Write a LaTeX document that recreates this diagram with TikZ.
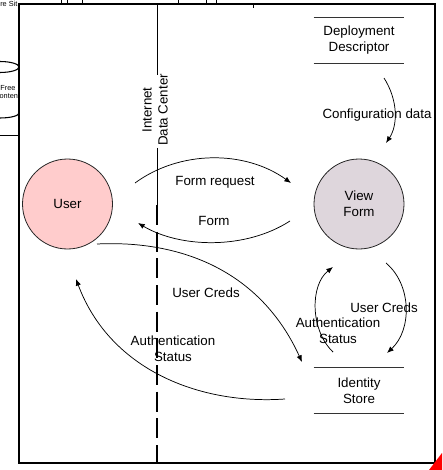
\documentclass[tikz,border=0pt]{standalone}
\usepackage{fontspec}
\setmainfont{Liberation Sans}
\usetikzlibrary{arrows.meta,calc}
\definecolor{userpink}{RGB}{255,204,204}
\definecolor{formgrey}{RGB}{222,214,220}

\begin{document}
\begin{tikzpicture}[x=0.75pt,y=-0.75pt,
  proc/.style={circle,draw=black!85,line width=0.6pt,minimum size=67.5pt,inner sep=0pt,
    font=\fontsize{10}{12}\selectfont,align=center},
  store/.style={minimum width=67.5pt,minimum height=33.75pt,inner sep=0pt,
    font=\fontsize{10}{12}\selectfont,align=center},
  storeline/.style={draw=black!80,line width=0.6pt},
  flow/.style={line width=0.55pt,-{Latex[length=5pt,width=4pt]}},
  lbl/.style={font=\fontsize{10}{12}\selectfont,align=center,inner sep=0pt},
  small/.style={font=\fontsize{5.5}{6.5}\selectfont,align=center,inner sep=0pt}]
  \useasboundingbox (0,0) rectangle (442,470);
  \clip (0,0) rectangle (442,470);

  % bits of neighbouring shapes
  \foreach \x in {61,67,82,178,206,216}
    \draw[line width=0.6pt] (\x,0) -- (\x,4);
  \draw[line width=0.5pt] (253,4) -- (253,8);
  \node[small,anchor=west] (site) at (0,3.5) {re Sit};
  \draw[line width=0.8pt] (0,67) ellipse [x radius=19, y radius=5.5];
  \draw[line width=0.8pt] (19,113) arc[start angle=0,end angle=180,x radius=19,y radius=5];
  \draw[line width=0.6pt] (0,135) -- (19,135);
  \node[small] (free) at (8,92) {Free\\content};

  % frame
  \draw[line width=1.6pt] (19,4) rectangle (435,463);
  \fill[red] (429,470) -- (442,470) -- (442,453) -- cycle;

  % internet / data center boundary
  \node[lbl,rotate=90] (border) at (155,110) {Internet\\Data Center};
  \draw[line width=0.6pt] (157,4) -- (157,75);
  \draw[line width=0.6pt] (157,148) -- (157,205);
  \draw[line width=2pt,dash pattern=on 15pt off 5pt] (157,205) -- (157,463);

  % processes and stores
  \node[proc,fill=userpink] (user) at (67.5,204) {User};
  \node[proc,fill=formgrey] (viewform) at (359,204) {View\\Form};
  \node[store] (deploy) at (359,40.5) {Deployment\\Descriptor};
  \node[store] (idstore) at (359,390.5) {Identity\\Store};
  \foreach \s in {deploy,idstore}
    \draw[storeline] (\s.north west) -- (\s.north east) (\s.south west) -- (\s.south east);

  % flow end points
  \coordinate (req-s) at (135,183);
  \coordinate (req-e) at (291,183);
  \coordinate (form-s) at (290,221);
  \coordinate (form-e) at (138,223);
  \coordinate (cfg-s) at (384,78);
  \coordinate (cfg-e) at (386,143);
  \coordinate (cred-s) at (97,244);
  \coordinate (cred-e) at (302,362);
  \coordinate (auth-s) at (285,399);
  \coordinate (auth-e) at (76,279);
  \coordinate (cred2-s) at (386,263);
  \coordinate (cred2-e) at (387,353);
  \coordinate (auth2-s) at (333,352);
  \coordinate (auth2-e) at (333,267);

  % data flows
  \draw[flow] (req-s) .. controls (180,150) and (245,150) .. (req-e);
  \draw[flow] (form-s) .. controls (245,250) and (180,248) .. (form-e);
  \draw[flow] (cfg-s) .. controls (398,100) and (398,125) .. (cfg-e);
  \draw[flow] (cred-s) .. controls (180,240) and (260,270) .. (cred-e);
  \draw[flow] (auth-s) .. controls (200,405) and (110,370) .. (auth-e);
  \draw[flow] (cred2-s) .. controls (412,285) and (412,330) .. (cred2-e);
  \draw[flow] (auth2-s) .. controls (310,330) and (310,285) .. (auth2-e);

  % flow labels
  \node[lbl] (req-lbl) at (215,182) {Form request};
  \node[lbl] (form-lbl) at (214,221) {Form};
  \node[lbl] (cfg-lbl) at (377,115) {Configuration data};
  \node[lbl] (cred-lbl) at (206,293) {User Creds};
  \node[lbl] (auth-lbl) at (173,349) {Authentication\\Status};
  \node[lbl] (cred2-lbl) at (384,308) {User Creds};
  \node[lbl] (auth2-lbl) at (338,331) {Authentication\\Status};
\end{tikzpicture}
\end{document}
